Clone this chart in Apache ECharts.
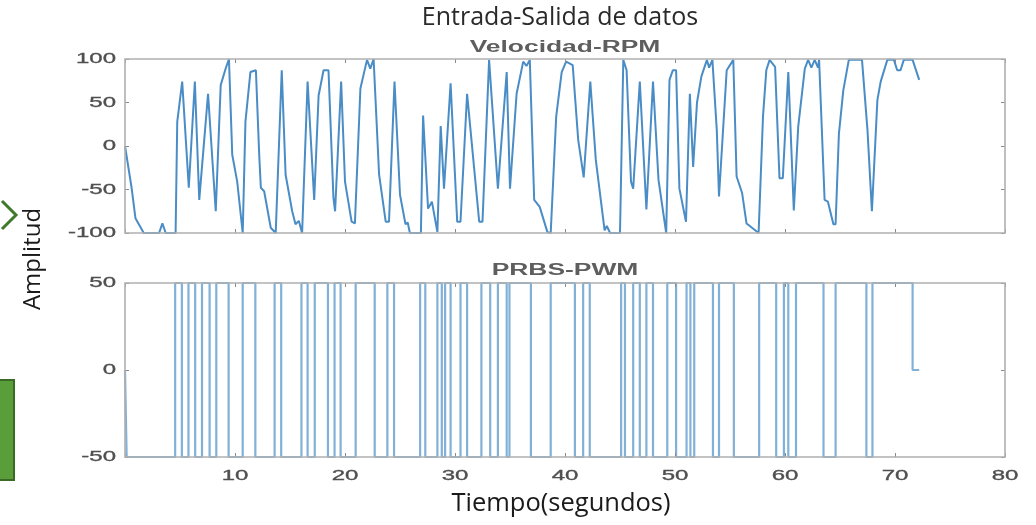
<!DOCTYPE html>
<html>
<head>
<meta charset="utf-8">
<script src="https://cdn.jsdelivr.net/npm/echarts@6/dist/echarts.min.js"></script>
<style>
html,body{margin:0;padding:0;background:#fff;}
#c{width:1036px;height:525px;}
</style>
</head>
<body>
<div id="c"></div>
<script>
// ---------- DATA ----------
const rpmTime = [0.0,0.6,0.95,1.4,1.7,3.1,3.4,3.7,4.6,4.75,5.2,5.8,6.35,6.75,7.55,8.25,8.7,9.15,9.45,9.75,10.2,10.7,10.95,11.4,11.9,12.2,12.35,12.65,13.25,13.7,14.25,14.6,15.2,15.5,15.8,16.1,16.6,17.2,17.6,18.05,18.5,18.95,19.1,19.65,20.0,20.6,20.9,21.4,22.0,22.3,22.6,23.1,23.7,24.0,24.5,25.0,25.5,25.7,25.9,26.9,27.1,27.55,27.9,28.4,28.7,29.0,29.6,30.2,30.5,31.1,32.2,32.5,33.1,33.9,34.7,35.0,35.6,36.2,36.5,36.8,37.2,37.7,38.4,38.7,39.2,39.7,40.1,40.7,41.2,41.7,42.3,42.8,43.6,43.8,44.1,45.0,45.3,45.6,46.0,46.2,46.8,47.4,48.0,48.5,49.2,49.5,49.8,50.1,50.4,51.0,51.35,51.65,52.0,52.4,52.9,53.1,53.4,53.8,54.0,54.7,55.1,55.3,55.6,56.1,56.5,56.8,57.6,58.0,58.3,58.6,59.1,59.5,59.8,60.3,60.8,61.2,61.8,62.1,62.4,62.7,63.0,63.1,63.6,63.9,64.4,64.6,64.9,65.3,65.8,67.0,67.5,67.9,68.4,68.7,69.3,69.9,70.2,70.5,70.8,71.6,72.2];
const rpmValue = [0,-48,-83,-93,-100,-100,-89,-100,-100,28,74,-48,74,-62,60,-75,70,89,100,-10,-41,-100,28,85,87,-10,-48,-52,-94,-100,87,-33,-75,-90,-86,-100,74,-62,58,87,87,-60,-75,74,-41,-87,-89,66,99,89,100,-33,-87,-87,74,-56,-90,-88,-100,-100,35,-72,-64,-99,23,-49,72,-87,-87,60,-87,-87,99,-49,85,-49,60,97,92,99,-62,-70,-99,-100,34,85,97,93,7,-36,74,-16,-97,-92,-100,-100,99,87,-41,-49,74,-73,74,-39,-100,76,87,87,-49,-87,60,-24,50,80,99,90,99,18,-58,87,95,99,-35,-54,-89,-92,-100,34,87,99,91,-37,-37,85,-74,22,89,99,90,99,90,99,-62,-64,-90,-90,14,64,99,99,18,-75,53,74,99,99,87,87,99,99,76];

// PRBS-PWM: time of each change and level held after it
const pwmTime  = [0.0,0.15,4.56,5.17,5.77,6.38,7.0,7.69,8.30,9.42,10.7,11.85,13.6,14.2,16.04,16.6,17.25,18.45,19.05,19.6,20.97,22.7,23.85,24.46,26.83,27.3,28.4,28.8,29.1,29.6,30.5,31.1,32.4,33.2,33.9,34.7,34.95,36.9,38.7,40.9,41.65,42.25,45.1,45.45,46.2,46.8,47.4,48.0,49.3,50.1,51.05,51.4,51.75,53.45,54.0,55.35,57.65,59.2,59.9,60.3,61.0,63.5,64.6,67.4,67.95,71.6,72.2];
const pwmLevel = [0,-50,50,-50,50,-50,50,-50,50,-50,50,-50,50,-50,50,-50,50,-50,50,-50,50,-50,50,-50,50,-50,50,-50,50,-50,50,-50,50,-50,50,-50,50,-50,50,-50,50,-50,50,-50,50,-50,50,-50,50,-50,50,-50,50,-50,50,-50,50,-50,50,-50,50,-50,50,-50,50,0,0];

const xTicks = [10,20,30,40,50,60,70,80];
const rpmTicks = [100,50,0,-50,-100];
const pwmTicks = [50,0,-50];

const title = 'Entrada-Salida de datos';
const topTitle = 'Velocidad-RPM';
const botTitle = 'PRBS-PWM';
const xName = 'Tiempo(segundos)';
const yName = 'Amplitud';

// ---------- CHART ----------
const chart = echarts.init(document.getElementById('c'), null, {renderer:'canvas'});
const frame = '#b0b0b0';
function xAx(grid, pos){
  return {type:'value', gridIndex:grid, position:pos, min:0, max:80, interval:10, z:5,
    axisLine:{show:false, onZero:false},
    axisTick:{show:true, inside:true, length:4, lineStyle:{color:'#8a8a8a'}},
    axisLabel:{show:false}, splitLine:{show:false}};
}
function yAx(grid, pos, mn, mx, iv){
  return {type:'value', gridIndex:grid, position:pos, min:mn, max:mx, interval:iv, z:5,
    axisLine:{show:false, onZero:false},
    axisTick:{show:true, inside:true, length:4, lineStyle:{color:'#8a8a8a'}},
    axisLabel:{show:false}, splitLine:{show:false}};
}
const option = {
  animation:false,
  backgroundColor:'#fff',
  grid:[
    {left:125, top:59, width:880, height:174},
    {left:125, top:283, width:880, height:174}
  ],
  xAxis:[xAx(0,'bottom'), xAx(0,'top'), xAx(1,'bottom'), xAx(1,'top')],
  yAxis:[yAx(0,'left',-100,100,50), yAx(0,'right',-100,100,50), yAx(1,'left',-50,50,50), yAx(1,'right',-50,50,50)],
  series:[
    {type:'line', xAxisIndex:0, yAxisIndex:0, showSymbol:false, z:2,
     lineStyle:{color:'#4a8dc6', width:2},
     data: rpmTime.map((t,i)=>[t, rpmValue[i]])},
    {type:'line', xAxisIndex:2, yAxisIndex:2, showSymbol:false, step:'end', z:2,
     lineStyle:{color:'#82b1d8', width:2.2},
     data: pwmTime.map((t,i)=>[t, pwmLevel[i]])}
  ]
};
chart.setOption(option);

// Text labels (stretched horizontally like the source figure), placed via the axes' own scales
const labFont = '15px "Liberation Sans", Arial, sans-serif';
const labFill = '#4f4f4f';
const SX = 1.6;
const g = [];
function lab(text, x, y, align){
  return {type:'text', x:x, y:y, scaleX:SX, z:20,
    style:{text:text, textAlign:align, textVerticalAlign:'middle', font:labFont, fill:labFill, stroke:labFill, lineWidth:0.35}};
}
rpmTicks.forEach(v=>{ g.push(lab(String(v), 116, chart.convertToPixel({yAxisIndex:0}, v), 'right')); });
pwmTicks.forEach(v=>{ g.push(lab(String(v), 116, chart.convertToPixel({yAxisIndex:2}, v), 'right')); });
xTicks.forEach(v=>{ g.push(lab(String(v), chart.convertToPixel({xAxisIndex:2}, v), 476, 'center')); });

// axes boxes drawn on top of the data, from the axes' extents
[[0,0],[2,2]].forEach(([xi,yi])=>{
  const x0 = chart.convertToPixel({xAxisIndex:xi}, 0), x1 = chart.convertToPixel({xAxisIndex:xi}, 80);
  const yMin = yi===0 ? -100 : -50, yMax = yi===0 ? 100 : 50;
  const y0 = chart.convertToPixel({yAxisIndex:yi}, yMax), y1 = chart.convertToPixel({yAxisIndex:yi}, yMin);
  g.push({type:'rect', z:30, shape:{x:x0, y:y0, width:x1-x0, height:y1-y0}, style:{fill:null, stroke:frame, lineWidth:1.6}});
});

const midX = chart.convertToPixel({xAxisIndex:0}, 40);
const subFont = 'bold 16px "Liberation Sans", Arial, sans-serif';
g.push({type:'text', x:midX, y:48, scaleX:1.65, z:20, style:{text:topTitle, textAlign:'center', textVerticalAlign:'middle', font:subFont, fill:'#5e5e5e'}});
g.push({type:'text', x:midX, y:271, scaleX:1.65, z:20, style:{text:botTitle, textAlign:'center', textVerticalAlign:'middle', font:subFont, fill:'#5e5e5e'}});
g.push({type:'text', x:560, y:18, z:20, style:{text:title, textAlign:'center', textVerticalAlign:'middle', font:'25px "Open Sans", sans-serif', fill:'#2a2a2a'}});
g.push({type:'text', x:561, y:504, z:20, style:{text:xName, textAlign:'center', textVerticalAlign:'middle', font:'25.5px "Open Sans", sans-serif', fill:'#1a1a1a'}});
g.push({type:'text', x:33, y:259, rotation:Math.PI/2, z:20, style:{text:yName, textAlign:'center', textVerticalAlign:'middle', font:'24px "Open Sans", sans-serif', fill:'#1a1a1a'}});
// slide decorations at the left edge
g.push({type:'polyline', z:20, shape:{points:[[2,201],[16,215],[2,229]]}, style:{stroke:'#3f7a2a', lineWidth:3, fill:null}});
g.push({type:'rect', z:20, shape:{x:-2, y:380, width:16, height:100}, style:{fill:'#5a9e3c', stroke:'#3a6b26', lineWidth:2}});
chart.setOption({graphic:g});
</script>
</body>
</html>
